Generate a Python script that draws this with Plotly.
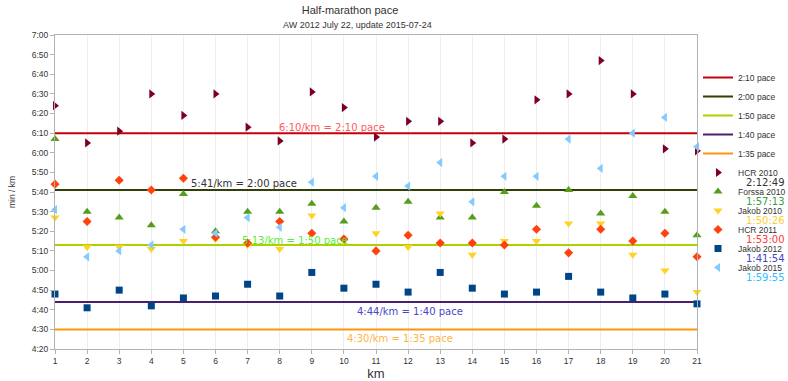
import plotly.graph_objects as go

# ---------------- data ----------------
km = list(range(1, 22))

series_names = ["HCR 2010", "Forssa 2010", "Jakob 2010", "HCR 2011", "Jakob 2012", "Jakob 2015"]
series_totals = ["2:12:49", "1:57:13", "1:50:26", "1:53:00", "1:41:54", "1:59:55"]

hcr2010 = ["6:24", "6:05", "6:11", "6:30", "6:19", "6:30", "6:13", "6:06", "6:31", "6:23", "6:08",
           "6:16", "6:16", "6:05", "6:07", "6:27", "6:30", "6:47", "6:30", "6:02", "6:01"]
forssa2010 = ["6:07", "5:30", "5:27", "5:23", "5:39", "5:20", "5:30", "5:30", "5:34", "5:25", "5:32",
              "5:35", "5:27", "5:27", "5:40", "5:33", "5:41", "5:29", "5:38", "5:30", "5:18"]
jakob2010 = ["5:27", "5:12", "5:12", "5:11", "5:15", "5:16", "5:13", "5:11", "5:28", "5:15", "5:19",
             "5:12", "5:29", "5:08", "5:15", "5:15", "5:24", "5:24", "5:08", "5:00", "4:49"]
hcr2011 = ["5:44", "5:25", "5:46", "5:41", "5:47", "5:17", "5:14", "5:25", "5:19", "5:16", "5:10",
           "5:18", "5:14", "5:14", "5:13", "5:21", "5:09", "5:21", "5:15", "5:19", "5:07"]
jakob2012 = ["4:48", "4:41", "4:50", "4:42", "4:46", "4:47", "4:53", "4:47", "4:59", "4:51", "4:53",
             "4:49", "4:59", "4:51", "4:48", "4:49", "4:57", "4:49", "4:46", "4:48", "4:43"]
jakob2015 = ["5:31", "5:07", "5:10", "5:13", "5:21", "5:19", "5:27", "5:22", "5:45", "5:32", "5:48",
             "5:43", "5:55", "5:35", "5:48", "5:48", "6:07", "5:52", "6:10", "6:18", "6:03"]

target_names = ["2:10 pace", "2:00 pace", "1:50 pace", "1:40 pace", "1:35 pace"]
target_paces = ["6:10", "5:41", "5:13", "4:44", "4:30"]
target_labels = ["6:10/km = 2:10 pace", "5:41/km = 2:00 pace", "5:13/km = 1:50 pace",
                 "4:44/km = 1:40 pace", "4:30/km = 1:35 pace"]

y_tick_labels = ["4:20", "4:30", "4:40", "4:50", "5:00", "5:10", "5:20", "5:30", "5:40",
                 "5:50", "6:00", "6:10", "6:20", "6:30", "6:40", "6:50", "7:00"]

title_text = "Half-marathon pace"
subtitle_text = "AW 2012 July 22, update 2015-07-24"


def to_sec(s):
    m, ss = s.split(":")
    return int(m) * 60 + float(ss)


# ---------------- styles ----------------
series_values = [hcr2010, forssa2010, jakob2010, hcr2011, jakob2012, jakob2015]
series_colors = ["#7e0021", "#579d1c", "#ffd320", "#ff420e", "#004586", "#83caff"]
series_symbols = ["triangle-right", "triangle-up", "triangle-down", "diamond", "square", "triangle-left"]
series_sizes = [8, 8, 8, 7, 7, 8]
total_colors = ["#333333", "#3aa03a", "#ffcc33", "#ff3838", "#4545c5", "#33bbff"]

target_colors = ["#c5000b", "#314004", "#aecf00", "#4b1f6f", "#ff950e"]
label_colors = ["#ff5a5a", "#333333", "#55ee33", "#4848c8", "#ffb347"]
label_pos = [(9.63, 373.0), (6.9, 344.3), (8.48, 315.2), (12.06, 279.0), (11.75, 265.5)]

W, H = 788, 381
ML, MR, MT, MB = 55, 91, 35, 32
PW, PH = W - ML - MR, H - MT - MB


def px_x(px):
    return (px - ML) / PW


def px_y(py):
    return 1 - (py - MT) / PH


fig = go.Figure()

for name, pace, col in zip(target_names, target_paces, target_colors):
    v = to_sec(pace)
    fig.add_trace(go.Scatter(
        x=[km[0], km[-1]], y=[v, v], mode="lines", name=name,
        line=dict(color=col, width=2), hoverinfo="skip"))

for name, vals, col, sym, sz in zip(series_names, series_values, series_colors, series_symbols, series_sizes):
    fig.add_trace(go.Scatter(
        x=km, y=[to_sec(v) for v in vals], mode="markers", name=name,
        marker=dict(color=col, symbol=sym, size=sz, line=dict(width=0)),
        cliponaxis=False))

annotations = []
for text, col, (ax, ay) in zip(target_labels, label_colors, label_pos):
    annotations.append(dict(x=ax, y=ay, xref="x", yref="y", text=text, showarrow=False,
                            font=dict(family="DejaVu Sans", size=10, color=col)))

legend_top_px = 63
item_h = 19
first_series_center = legend_top_px + 14 + item_h * len(target_names)
for i, (tot, col) in enumerate(zip(series_totals, total_colors)):
    ypx = first_series_center + i * item_h + 10
    annotations.append(dict(
        x=px_x(744), y=px_y(ypx), xref="paper", yref="paper",
        xanchor="left", yanchor="middle", text=tot, showarrow=False,
        font=dict(family="DejaVu Sans", size=10, color=col)))

annotations.append(dict(
    x=px_x(357), y=px_y(25), xref="paper", yref="paper", xanchor="center", yanchor="middle",
    text=subtitle_text, showarrow=False,
    font=dict(family="Liberation Sans", size=9, color="#333333")))

fig.update_layout(
    width=W, height=H,
    margin=dict(l=ML, r=MR, t=MT, b=MB, autoexpand=False),
    paper_bgcolor="white", plot_bgcolor="white",
    font=dict(family="Liberation Sans", size=9, color="#333333"),
    title=dict(
        text=title_text,
        font=dict(family="Liberation Sans", size=11, color="#333333"),
        x=350 / W, xref="container", xanchor="center",
        y=1 - 10 / H, yref="container", yanchor="middle",
    ),
    xaxis=dict(
        range=[km[0], km[-1]], tickmode="array", tickvals=km, ticktext=[str(k) for k in km],
        showgrid=True, gridcolor="#eeeeee", gridwidth=1,
        showline=True, linecolor="#b3b3b3", linewidth=1, mirror=True,
        ticks="outside", ticklen=4, tickcolor="#b3b3b3",
        tickfont=dict(size=8.5, color="#333333"),
        title=dict(text="km", font=dict(size=13, color="#333333"), standoff=3),
        zeroline=False,
    ),
    yaxis=dict(
        range=[260, 420], tickmode="array",
        tickvals=[to_sec(t) for t in y_tick_labels], ticktext=y_tick_labels,
        showgrid=False,
        showline=True, linecolor="#b3b3b3", linewidth=1, mirror=True,
        ticks="outside", ticklen=4, tickcolor="#b3b3b3",
        tickfont=dict(size=8.5, color="#333333"),
        title=dict(text="min / km", font=dict(size=8.5, color="#333333"), standoff=14),
        zeroline=False,
    ),
    legend=dict(
        x=px_x(698), xanchor="left", y=px_y(legend_top_px), yanchor="top",
        font=dict(family="Liberation Sans", size=8.5, color="#333333"),
        itemwidth=30, tracegroupgap=0, bgcolor="rgba(0,0,0,0)",
    ),
    annotations=annotations,
    showlegend=True,
)

fig.write_html("out.html", config={"displayModeBar": False},
               post_script="document.body.style.margin='0px';")
